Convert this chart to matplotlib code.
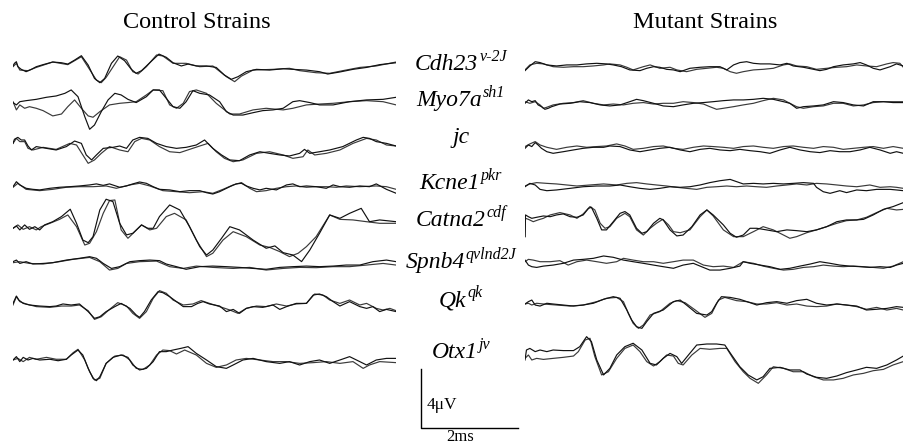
#!/usr/bin/env python3
# coding: utf-8

"""
ABR waveforms of control and mutant mouse strains, two repeats per strain.
Traces are digitised by eye: (time in ms, amplitude in uV) pairs.
"""

import matplotlib
matplotlib.use("Agg")
import matplotlib.pyplot as plt
import numpy as np

plt.rcParams['font.family'] = ['Liberation Serif', 'DejaVu Serif']

# strains (row order top to bottom)
genes = ["Cdh23", "Myo7a", "jc", "Kcne1", "Catna2", "Spnb4", "Qk", "Otx1"]
alleles = ["v-2J", "sh1", "", "pkr", "cdf", "qvlnd2J", "qk", "jv"]

# ---- control strains ----
cdh23_ctrl_1 = [(0, .05), (.03, .23), (.07, .34), (.10, 0), (.17, -.18), (.27, -.34), (.38, -.18), (.48, 0),
                (.62, .14), (.82, .32), (1.00, .27), (1.13, .18), (1.27, .45), (1.41, .75), (1.55, .11),
                (1.68, -.80), (1.79, -1.09), (1.89, -.80), (2.03, .23), (2.16, .73), (2.30, .41),
                (2.44, -.18), (2.54, -.45), (2.65, -.27), (2.82, .27), (3.01, .86), (3.16, .64), (3.30, .27),
                (3.47, .05), (3.61, .18), (3.78, .05), (3.99, .05), (4.19, -.05), (4.36, -.57), (4.50, -.86),
                (4.64, -.68), (4.81, -.34), (5.02, -.18), (5.29, -.23), (5.57, -.14), (5.77, -.18),
                (6.05, -.23), (6.32, -.34), (6.49, -.50), (6.74, -.36), (7.01, -.18), (7.29, -.05),
                (7.56, .14), (7.90, .27)]
cdh23_ctrl_2 = [(0, 0), (.07, .23), (.14, -.23), (.31, -.27), (.48, -.05), (.82, .32), (1.13, .14), (1.41, .68),
                (1.72, -.91), (1.82, -1.09), (1.92, -.73), (2.20, .68), (2.34, .45), (2.47, -.34), (2.58, -.50),
                (2.75, 0), (2.96, .80), (3.09, .73), (3.30, .23), (3.57, .23), (3.85, 0), (4.12, .05),
                (4.40, -.68), (4.57, -1.02), (4.71, -.64), (4.95, -.23), (5.36, -.18), (5.70, -.11),
                (5.91, -.27), (6.25, -.41), (6.53, -.45), (6.80, -.27), (7.15, -.05), (7.49, .05), (7.90, .32)]
myo7a_ctrl_1 = [(0, .05), (.07, -.11), (.14, .11), (.27, .18), (.48, .27), (.69, .41), (.89, .50), (1.07, .68),
                (1.20, .91), (1.34, .45), (1.48, -.91), (1.58, -1.77), (1.68, -1.48), (1.82, -.57), (1.96, .23),
                (2.10, .68), (2.23, .57), (2.37, .27), (2.54, .05), (2.75, .45), (2.89, .91), (3.02, .91),
                (3.16, .34), (3.30, -.23), (3.44, -.34), (3.57, .11), (3.71, .86), (3.85, .68), (4.05, .57),
                (4.26, .11), (4.40, -.57), (4.54, -.80), (4.74, -.80), (4.95, -.64), (5.15, -.50), (5.36, -.45),
                (5.57, -.34), (5.77, .11), (5.91, .18), (6.12, .05), (6.32, -.11), (6.60, -.11), (6.94, .11),
                (7.29, .23), (7.63, .27), (7.90, .41)]
myo7a_ctrl_2 = [(0, .11), (.07, -.45), (.14, -.11), (.24, -.34), (.34, -.23), (.48, -.34), (.62, -.50),
                (.82, -.86), (1.00, -.73), (1.13, -.23), (1.27, .23), (1.41, -.34), (1.55, -.86), (1.65, -.95),
                (1.79, -.57), (1.99, -.11), (2.20, 0), (2.37, .05), (2.54, .11), (2.75, .57), (2.89, .91),
                (3.09, .86), (3.23, -.11), (3.37, -.34), (3.51, 0), (3.64, .80), (3.78, .91), (3.99, .68),
                (4.19, 0), (4.47, -.73), (4.67, -.73), (4.95, -.45), (5.22, -.34), (5.57, -.45), (5.77, -.34),
                (6.05, -.11), (6.32, -.05), (6.60, 0), (6.94, .11), (7.29, .18), (7.63, .11), (7.90, -.11)]
jc_ctrl_1 = [(0, -.23), (.03, .05), (.10, .18), (.17, 0), (.24, 0), (.31, -.41), (.38, -.68), (.48, -.45),
             (.69, -.57), (.89, -.68), (1.10, -.45), (1.27, -.07), (1.41, -.23), (1.51, -1.02), (1.62, -1.36),
             (1.72, -1.02), (1.86, -.57), (2.06, -.50), (2.20, -.41), (2.34, -.57), (2.47, 0), (2.61, .18),
             (2.78, .11), (2.96, -.23), (3.16, -.45), (3.37, -.57), (3.57, -.50), (3.78, -.34), (3.95, 0),
             (4.12, -.57), (4.30, -1.02), (4.47, -1.36), (4.67, -1.41), (4.88, -1.02), (5.09, -.80),
             (5.29, -.91), (5.50, -1.02), (5.70, -1.09), (5.91, -.91), (6.01, -.64), (6.12, -.91),
             (6.32, -.80), (6.53, -.68), (6.80, -.45), (7.08, 0), (7.22, .18), (7.35, .11), (7.49, -.11),
             (7.70, -.23), (7.90, -.41)]
jc_ctrl_2 = [(0, -.23), (.07, .11), (.14, -.11), (.24, -.11), (.31, -.57), (.41, -.68), (.62, -.50), (.89, -.64),
             (1.17, -.23), (1.31, -.34), (1.44, -1.02), (1.55, -1.59), (1.68, -1.36), (1.82, -.91),
             (1.99, -.45), (2.20, -.68), (2.37, -.80), (2.51, -.11), (2.65, .11), (2.82, 0), (3.02, -.45),
             (3.23, -.80), (3.44, -.86), (3.64, -.64), (3.85, -.41), (4.02, -.23), (4.19, -.80), (4.36, -1.25),
             (4.54, -1.48), (4.74, -1.36), (5.02, -.91), (5.29, -.80), (5.57, -1.02), (5.77, -1.25),
             (5.98, -1.14), (6.08, -.68), (6.22, -1.02), (6.46, -.91), (6.74, -.68), (7.01, -.23),
             (7.29, .11), (7.49, 0), (7.70, -.34), (7.90, -.41)]
kcne1_ctrl_1 = [(0, .11), (.07, .45), (.14, .23), (.27, 0), (.41, -.07), (.55, -.11), (.76, 0), (.96, .07),
                (1.17, .11), (1.37, .16), (1.58, .23), (1.72, .30), (1.86, .20), (1.99, .30), (2.20, .07),
                (2.34, .16), (2.47, .30), (2.61, .43), (2.75, .34), (2.89, .11), (3.02, -.07), (3.23, -.11),
                (3.44, -.23), (3.64, -.16), (3.85, -.16), (3.99, -.30), (4.12, -.39), (4.26, -.23), (4.47, .11),
                (4.60, .30), (4.71, .34), (4.81, .16), (4.95, 0), (5.09, -.11), (5.22, 0), (5.43, -.11),
                (5.64, .23), (5.77, .30), (5.91, .11), (6.05, .16), (6.25, .11), (6.46, 0), (6.60, .23),
                (6.74, .11), (6.94, .07), (7.15, .16), (7.35, .11), (7.49, .30), (7.70, -.07), (7.90, -.34)]
kcne1_ctrl_2 = [(0, .07), (.10, .34), (.27, -.07), (.55, -.16), (.82, -.07), (1.10, .07), (1.37, .11),
                (1.65, .11), (1.92, .16), (2.13, 0), (2.41, .23), (2.61, .34), (2.82, .16), (3.09, -.16),
                (3.37, -.23), (3.64, -.30), (3.92, -.23), (4.12, -.34), (4.33, -.07), (4.54, .23), (4.71, .39),
                (4.88, 0), (5.02, -.23), (5.22, -.16), (5.43, 0), (5.64, .11), (5.84, .16), (6.05, .07),
                (6.25, .11), (6.46, .11), (6.67, .07), (6.87, .16), (7.15, .11), (7.49, .16), (7.70, .11),
                (7.90, -.07)]
catna2_ctrl_1 = [(0, 0), (.07, .16), (.14, -.11), (.24, .23), (.34, -.07), (.45, .11), (.55, -.11), (.65, .23),
                 (.82, .45), (1.00, .80), (1.18, 1.30), (1.31, .34), (1.44, -.80), (1.55, -.98), (1.65, -.57),
                 (1.79, 1.25), (1.92, 1.98), (2.06, 1.82), (2.20, .34), (2.34, -.45), (2.47, -.34), (2.65, .23),
                 (2.78, 0), (2.89, 0), (3.02, .80), (3.23, 1.59), (3.44, 1.25), (3.64, .11), (3.85, -1.25),
                 (3.99, -1.82), (4.12, -1.48), (4.30, -.68), (4.47, .11), (4.67, -.11), (4.95, -.80),
                 (5.22, -1.36), (5.40, -1.20), (5.57, -1.66), (5.77, -1.82), (5.95, -2.27), (6.12, -1.48),
                 (6.32, -.34), (6.53, .91), (6.74, .68), (6.94, 1.02), (7.18, 1.36), (7.35, .45), (7.56, .57),
                 (7.90, .45)]
catna2_ctrl_2 = [(0, 0), (.10, .23), (.21, -.07), (.34, .11), (.48, -.11), (.58, .11), (.76, .34), (.96, .61),
                 (1.13, .91), (1.31, .11), (1.48, -1.14), (1.58, -1.02), (1.72, -.23), (1.86, 1.02), (1.99, 1.89),
                 (2.10, 1.93), (2.23, -.11), (2.37, -.68), (2.51, -.23), (2.65, .23), (2.82, -.11), (2.96, 0),
                 (3.16, .80), (3.33, 1.02), (3.57, .57), (3.78, -.80), (3.99, -1.93), (4.12, -1.70), (4.33, -.80),
                 (4.54, -.23), (4.81, -.57), (5.09, -1.14), (5.29, -1.30), (5.50, -1.59), (5.70, -1.93),
                 (5.88, -1.70), (6.05, -1.25), (6.25, -.57), (6.53, .91), (6.74, .61), (7.01, .57), (7.29, .45),
                 (7.56, .34), (7.90, .34)]
spnb4_ctrl_1 = [(0, .07), (.07, .18), (.14, -.05), (.27, .07), (.41, -.09), (.62, -.05), (.82, 0), (1.10, .18),
                (1.37, .30), (1.58, .41), (1.72, .30), (1.86, -.05), (2.03, -.39), (2.20, -.27), (2.41, .07),
                (2.61, .14), (2.82, .18), (3.02, .14), (3.16, -.09), (3.37, -.27), (3.57, -.45), (3.85, -.27),
                (4.12, -.23), (4.40, -.27), (4.67, -.32), (4.95, -.39), (5.22, -.45), (5.50, -.32), (5.77, -.27),
                (6.05, -.23), (6.32, -.27), (6.60, -.23), (6.87, -.16), (7.15, -.16), (7.42, .07), (7.70, .18),
                (7.90, .07)]
spnb4_ctrl_2 = [(0, 0), (.14, .07), (.34, -.05), (.62, -.09), (.96, .07), (1.24, .23), (1.58, .36), (1.79, .07),
                (1.99, -.50), (2.16, -.39), (2.34, -.05), (2.61, .07), (2.96, .11), (3.23, -.27), (3.51, -.39),
                (3.78, -.23), (4.12, -.32), (4.54, -.39), (4.88, -.32), (5.22, -.50), (5.57, -.39), (5.91, -.32),
                (6.25, -.34), (6.60, -.27), (6.94, -.27), (7.29, -.16), (7.63, -.05), (7.90, -.16)]
qk_ctrl_1 = [(0, .11), (.07, .61), (.12, .34), (.21, .11), (.34, 0), (.55, -.07), (.76, -.11), (.89, -.07),
             (1.03, .07), (1.20, 0), (1.37, .07), (1.55, -.45), (1.68, -.91), (1.79, -.80), (1.92, -.45),
             (2.10, -.11), (2.23, .11), (2.41, -.23), (2.54, -.68), (2.61, -.84), (2.71, -.45), (2.85, .34),
             (2.99, .91), (3.09, .84), (3.23, .57), (3.37, .23), (3.51, -.11), (3.68, -.11), (3.81, .11),
             (3.92, .23), (4.05, .07), (4.26, -.07), (4.40, -.45), (4.54, -.30), (4.67, -.57), (4.81, -.23),
             (4.95, -.11), (5.15, -.16), (5.36, 0), (5.50, -.30), (5.64, -.11), (5.84, .11), (6.05, .11),
             (6.19, .68), (6.32, .75), (6.46, .57), (6.60, .23), (6.74, -.07), (6.94, .23), (7.15, -.11),
             (7.29, -.23), (7.42, -.11), (7.56, -.45), (7.70, -.30), (7.90, -.45)]
qk_ctrl_2 = [(0, 0), (.07, .57), (.14, .23), (.27, .07), (.48, -.11), (.76, -.16), (1.00, -.07), (1.20, -.07),
             (1.37, 0), (1.55, -.39), (1.68, -.98), (1.82, -.80), (1.99, -.30), (2.16, .16), (2.34, -.07),
             (2.47, -.57), (2.61, -.91), (2.75, -.45), (2.89, .45), (3.02, .98), (3.16, .80), (3.30, .34),
             (3.51, 0), (3.71, .07), (3.88, .30), (4.05, .11), (4.26, -.11), (4.47, -.34), (4.64, -.57),
             (4.81, -.23), (5.02, -.07), (5.22, -.11), (5.43, .07), (5.64, -.07), (5.84, .07), (6.05, .11),
             (6.22, .75), (6.39, .68), (6.53, .34), (6.74, .11), (6.94, .34), (7.15, 0), (7.29, .11),
             (7.49, -.23), (7.63, -.34), (7.77, -.23), (7.90, -.39)]
otx1_ctrl_1 = [(0, 0), (.07, .23), (.14, -.11), (.21, .18), (.31, 0), (.41, .11), (.55, 0), (.76, .05),
               (.93, -.05), (1.10, .05), (1.20, .34), (1.34, .68), (1.44, .34), (1.55, -.57), (1.65, -1.25),
               (1.72, -1.41), (1.79, -1.14), (1.92, -.23), (2.06, .18), (2.23, .34), (2.37, .18), (2.47, -.34),
               (2.61, -.68), (2.75, -.57), (2.89, -.11), (3.02, .57), (3.16, .57), (3.30, .68), (3.47, .80),
               (3.61, .91), (3.78, .45), (3.99, 0), (4.19, -.45), (4.40, -.57), (4.54, -.34), (4.74, 0),
               (4.95, .11), (5.22, -.11), (5.50, -.23), (5.70, -.11), (5.91, -.34), (6.12, -.11), (6.32, 0),
               (6.53, -.23), (6.74, 0), (6.94, .23), (7.15, -.11), (7.29, -.34), (7.49, 0), (7.70, .11),
               (7.90, .11)]
otx1_ctrl_2 = [(0, 0), (.10, .11), (.21, -.11), (.34, .18), (.48, .05), (.69, .18), (.89, .05), (1.10, .05),
               (1.24, .50), (1.34, .73), (1.48, 0), (1.58, -.80), (1.68, -1.36), (1.79, -1.25), (1.92, -.23),
               (2.10, .27), (2.27, .34), (2.41, 0), (2.54, -.57), (2.68, -.64), (2.82, -.34), (2.96, .34),
               (3.09, .68), (3.23, .64), (3.37, .41), (3.54, .68), (3.78, .34), (3.99, -.23), (4.19, -.50),
               (4.40, -.34), (4.60, 0), (4.81, .11), (5.09, 0), (5.36, -.11), (5.64, -.11), (5.91, -.23),
               (6.19, -.18), (6.46, -.11), (6.74, -.23), (7.01, -.11), (7.22, -.57), (7.35, -.34), (7.56, -.11),
               (7.90, -.18)]

# ---- mutant strains ----
cdh23_mut_1 = [(0, -.16), (.10, .16), (.21, .45), (.31, .39), (.45, .23), (.65, .16), (.86, .23), (1.07, .23),
               (1.27, .30), (1.48, .34), (1.68, .30), (1.82, .23), (1.99, .11), (2.16, -.11), (2.37, -.16),
               (2.51, 0), (2.65, .11), (2.78, .07), (2.92, -.07), (3.06, -.11), (3.20, -.23), (3.40, 0),
               (3.61, .07), (3.81, .11), (4.02, .11), (4.16, -.11), (4.30, .23), (4.43, .39), (4.57, .45),
               (4.71, .34), (4.85, .30), (5.05, .30), (5.26, .23), (5.40, .34), (5.53, .16), (5.74, .07),
               (5.95, -.07), (6.08, -.16), (6.22, -.07), (6.36, .11), (6.56, .23), (6.77, .30), (6.91, .39),
               (7.04, .23), (7.18, 0), (7.32, -.11), (7.53, .11), (7.66, .30), (7.80, .16)]
cdh23_mut_2 = [(0, -.11), (.10, .23), (.24, .34), (.38, .30), (.58, .11), (.79, .07), (1.00, .11), (1.20, .11),
               (1.41, .16), (1.62, .23), (1.75, .30), (1.96, .23), (2.10, .07), (2.23, -.11), (2.44, .11),
               (2.58, .23), (2.78, 0), (2.99, .07), (3.13, -.11), (3.33, -.23), (3.54, -.07), (3.75, 0),
               (3.95, .07), (4.09, 0), (4.23, -.23), (4.36, -.34), (4.50, -.23), (4.71, -.11), (4.91, -.07),
               (5.12, 0), (5.33, .23), (5.46, .30), (5.60, .16), (5.81, .11), (6.01, -.07), (6.22, 0),
               (6.43, .07), (6.63, .11), (6.84, .23), (7.04, .16), (7.25, .11), (7.46, .30), (7.59, .39),
               (7.73, .34), (7.80, .07)]
myo7a_mut_1 = [(0, 0), (.07, .23), (.14, .11), (.21, .18), (.27, -.11), (.34, -.23), (.41, -.41), (.48, -.34),
               (.55, -.23), (.72, -.05), (.93, 0), (1.13, .11), (1.34, .05), (1.55, -.11), (1.75, -.18),
               (1.96, -.11), (2.16, .11), (2.30, .27), (2.44, .18), (2.65, 0), (2.85, -.18), (3.06, -.23),
               (3.26, -.11), (3.47, 0), (3.68, .05), (3.88, .11), (4.09, .18), (4.30, .23), (4.50, .23),
               (4.71, .27), (4.91, .34), (5.12, .27), (5.33, .11), (5.46, 0), (5.60, -.34), (5.74, -.23),
               (5.95, -.18), (6.15, -.11), (6.36, .11), (6.56, .05), (6.77, -.11), (6.98, -.18), (7.18, .11),
               (7.39, .11), (7.59, .05), (7.80, .05)]
myo7a_mut_2 = [(0, .11), (.10, 0), (.21, .11), (.31, -.11), (.38, -.34), (.45, -.27), (.58, -.11), (.79, 0),
               (1.00, .05), (1.20, .18), (1.41, 0), (1.62, -.11), (1.82, -.05), (2.03, -.11), (2.23, 0),
               (2.44, .05), (2.65, -.05), (2.85, 0), (3.06, 0), (3.26, .11), (3.47, .05), (3.68, -.05),
               (3.81, -.23), (3.95, -.41), (4.09, -.34), (4.30, -.23), (4.50, -.11), (4.71, 0), (4.91, .18),
               (5.12, .34), (5.33, .23), (5.46, 0), (5.60, -.23), (5.74, -.34), (5.95, -.23), (6.15, -.18),
               (6.36, 0), (6.56, 0), (6.77, -.18), (6.98, -.11), (7.18, .05), (7.39, .11), (7.59, .11),
               (7.80, .11)]
jc_mut_1 = [(0, -.07), (.07, .16), (.14, .05), (.21, .32), (.27, .16), (.34, -.07), (.45, -.30), (.58, -.41),
            (.79, -.30), (1.00, -.18), (1.20, -.07), (1.41, 0), (1.62, 0), (1.75, .09), (1.96, .05),
            (2.16, -.18), (2.37, -.30), (2.58, -.18), (2.78, -.07), (2.99, 0), (3.20, -.18), (3.40, -.30),
            (3.61, -.14), (3.81, -.07), (4.02, -.18), (4.23, -.23), (4.43, -.14), (4.64, -.23), (4.85, -.30),
            (5.05, -.41), (5.26, -.18), (5.46, 0), (5.67, -.18), (5.88, -.30), (6.08, -.36), (6.29, -.23),
            (6.49, -.30), (6.70, -.30), (6.91, -.18), (7.11, 0), (7.32, -.18), (7.53, -.41), (7.66, -.30),
            (7.80, -.41)]
jc_mut_2 = [(0, .05), (.10, .23), (.21, .39), (.31, .16), (.45, 0), (.65, -.14), (.86, 0), (1.07, .09), (1.27, 0),
            (1.48, .05), (1.68, .09), (1.89, .23), (2.06, .09), (2.23, -.14), (2.44, -.07), (2.65, .05),
            (2.85, .09), (3.06, -.07), (3.26, -.14), (3.47, 0), (3.68, .09), (3.88, .05), (4.09, 0),
            (4.30, -.07), (4.50, .05), (4.71, .09), (4.91, 0), (5.12, -.07), (5.33, .05), (5.53, .09),
            (5.74, 0), (5.95, -.07), (6.15, .05), (6.36, 0), (6.56, -.14), (6.77, -.07), (6.98, 0), (7.18, .05),
            (7.39, -.07), (7.59, .05), (7.80, -.07)]
kcne1_mut_1 = [(0, -.05), (.10, .18), (.21, .07), (.31, -.23), (.45, -.32), (.65, -.27), (.93, -.16),
               (1.20, -.05), (1.48, 0), (1.75, 0), (1.96, .07), (2.16, -.05), (2.37, -.16), (2.58, -.23),
               (2.78, -.16), (2.99, -.05), (3.20, -.09), (3.40, -.05), (3.61, .07), (3.81, .23), (4.02, .36),
               (4.23, .45), (4.36, .30), (4.50, .14), (4.71, .18), (4.91, .14), (5.12, .18), (5.33, .14),
               (5.53, .18), (5.74, .23), (5.95, .18), (6.01, -.09), (6.15, -.39), (6.29, -.50), (6.49, -.32),
               (6.63, -.45), (6.84, -.27), (7.04, -.32), (7.25, -.23), (7.53, -.23), (7.66, -.27), (7.80, -.32)]
kcne1_mut_2 = [(0, 0), (.10, .14), (.24, .23), (.45, .18), (.65, .14), (.86, .07), (1.07, 0), (1.34, .07),
               (1.62, .14), (1.89, .07), (2.10, .18), (2.30, .23), (2.51, .14), (2.71, .07), (2.92, 0),
               (3.13, -.09), (3.33, -.16), (3.54, -.23), (3.75, -.09), (3.95, -.05), (4.16, 0), (4.36, -.05),
               (4.57, 0), (4.78, -.05), (4.98, -.09), (5.19, 0), (5.40, .07), (5.60, .14), (5.81, .07),
               (6.01, .18), (6.22, .14), (6.43, .07), (6.63, 0), (6.84, -.05), (7.11, .07), (7.32, -.09),
               (7.53, -.05), (7.66, -.09), (7.80, -.16)]
catna2_mut_1 = [(0, -.91), (.01, .57), (.07, .45), (.14, .34), (.24, .41), (.38, .50), (.52, .45), (.65, .57),
                (.79, .64), (.93, .45), (1.07, .41), (1.20, .57), (1.31, 1.02), (1.37, 1.09), (1.48, .34),
                (1.58, -.45), (1.68, -.45), (1.82, .11), (1.96, .68), (2.06, .80), (2.16, .57), (2.30, -.34),
                (2.41, -.68), (2.51, -.57), (2.65, 0), (2.78, .34), (2.85, .23), (2.99, -.45), (3.13, -.86),
                (3.26, -.80), (3.44, -.23), (3.61, .57), (3.75, .91), (3.88, .57), (4.09, -.11), (4.23, -.68),
                (4.36, -.95), (4.50, -.80), (4.64, -.34), (4.78, -.34), (4.98, -.45), (5.19, -.57), (5.40, -.45),
                (5.60, -.50), (5.81, -.57), (6.01, -.45), (6.22, -.23), (6.43, .11), (6.63, .23), (6.84, .23),
                (6.98, .27), (7.18, .57), (7.39, .95), (7.59, 1.14), (7.80, 1.41)]
catna2_mut_2 = [(0, -.91), (.01, .34), (.07, .27), (.17, .11), (.27, .23), (.38, .34), (.52, .57), (.72, .73),
                (.93, .57), (1.07, .34), (1.20, .64), (1.34, 1.14), (1.44, .91), (1.55, 0), (1.65, -.34),
                (1.75, -.23), (1.89, .34), (2.06, .68), (2.16, .45), (2.30, -.45), (2.44, -.80), (2.58, -.34),
                (2.71, 0), (2.84, .27), (2.96, -.11), (3.06, -.57), (3.20, -.64), (3.40, -.45), (3.61, .45),
                (3.75, .91), (3.88, .50), (4.09, -.45), (4.30, -.91), (4.50, -.91), (4.71, -.57), (4.91, -.23),
                (5.12, -.45), (5.33, -.80), (5.46, -1.02), (5.60, -.91), (5.81, -.64), (6.01, -.45), (6.22, -.23),
                (6.43, 0), (6.63, .18), (6.84, .23), (7.04, .41), (7.25, .73), (7.46, 1.02), (7.66, .91),
                (7.80, .95)]
spnb4_mut_1 = [(0, .11), (.07, -.23), (.14, -.34), (.24, -.39), (.38, -.30), (.58, -.23), (.79, -.11), (1.00, .11),
               (1.20, .16), (1.41, .23), (1.62, .39), (1.82, .30), (2.03, .11), (2.23, 0), (2.44, -.11),
               (2.65, -.23), (2.85, -.34), (3.06, -.45), (3.26, -.23), (3.47, -.11), (3.61, -.30), (3.81, -.57),
               (4.02, -.57), (4.23, -.45), (4.43, -.30), (4.50, 0), (4.64, -.11), (4.85, -.23), (5.05, -.34),
               (5.26, -.52), (5.46, -.45), (5.67, -.30), (5.88, -.16), (6.08, 0), (6.29, -.11), (6.49, -.23),
               (6.70, -.30), (6.91, -.34), (7.11, -.39), (7.32, -.34), (7.53, -.39), (7.66, -.23), (7.80, -.11)]
spnb4_mut_2 = [(0, 0), (.07, .16), (.17, .11), (.31, 0), (.52, 0), (.72, .07), (.89, -.23), (1.07, 0), (1.27, .11),
               (1.48, 0), (1.68, -.11), (1.89, 0), (2.03, .23), (2.23, .11), (2.44, 0), (2.65, 0), (2.85, -.11),
               (3.06, 0), (3.26, .11), (3.47, .11), (3.68, -.23), (3.88, -.34), (4.09, -.30), (4.30, -.39),
               (4.50, 0), (4.71, -.11), (4.91, -.30), (5.12, -.45), (5.33, -.57), (5.53, -.52), (5.74, -.39),
               (5.95, -.34), (6.15, -.23), (6.36, -.30), (6.56, -.34), (6.77, -.30), (6.98, -.34), (7.18, -.39),
               (7.39, -.45), (7.59, -.30), (7.80, 0)]
qk_mut_1 = [(0, 0), (.07, .16), (.14, .27), (.21, -.07), (.31, -.14), (.45, .05), (.58, 0), (.79, -.07),
            (1.00, -.14), (1.20, -.07), (1.41, .05), (1.62, .32), (1.82, .50), (1.96, .39), (2.10, -.41),
            (2.20, -1.09), (2.30, -1.55), (2.41, -1.66), (2.51, -1.20), (2.65, -.64), (2.85, -.41), (3.06, .16),
            (3.20, .27), (3.33, -.07), (3.54, -.64), (3.75, -.75), (3.85, -.52), (3.95, .05), (4.05, .50),
            (4.23, .45), (4.43, .32), (4.64, .09), (4.78, -.07), (4.98, .09), (5.19, .16), (5.40, .05),
            (5.60, .23), (5.81, .32), (6.01, .05), (6.22, -.07), (6.43, 0), (6.63, -.07), (6.84, -.14),
            (7.04, -.41), (7.25, -.36), (7.46, -.30), (7.66, -.18), (7.80, -.23)]
qk_mut_2 = [(0, 0), (.07, .05), (.14, -.07), (.24, .05), (.38, 0), (.65, -.07), (.93, -.14), (1.20, -.07),
            (1.48, .16), (1.68, .39), (1.89, .45), (2.03, .16), (2.13, -.64), (2.23, -1.32), (2.34, -1.66),
            (2.44, -1.43), (2.58, -.75), (2.78, -.52), (2.99, .05), (3.13, .23), (3.30, .09), (3.51, -.41),
            (3.71, -.91), (3.85, -.64), (3.99, .27), (4.12, .45), (4.36, .23), (4.57, .16), (4.78, 0), (4.98, 0),
            (5.19, .09), (5.40, -.07), (5.60, 0), (5.81, -.14), (6.01, -.18), (6.22, -.14), (6.43, 0),
            (6.63, -.07), (6.84, -.18), (7.04, -.36), (7.25, -.23), (7.46, -.41), (7.66, -.30), (7.80, -.41)]
otx1_mut_1 = [(0, -.34), (.03, .34), (.10, .45), (.21, .23), (.31, .34), (.45, .23), (.58, .34), (.79, .30),
              (1.00, .30), (1.13, .57), (1.27, 1.25), (1.37, .91), (1.48, -.34), (1.62, -1.36), (1.75, -.91),
              (1.89, 0), (2.06, .57), (2.23, .80), (2.41, .34), (2.58, -.57), (2.71, -.68), (2.85, -.23),
              (2.99, .11), (3.13, -.11), (3.23, -.57), (3.37, 0), (3.54, .68), (3.75, .75), (3.95, .75),
              (4.12, .68), (4.26, 0), (4.43, -.80), (4.60, -1.36), (4.78, -1.70), (4.91, -1.48), (5.05, -.91),
              (5.26, -.84), (5.46, -1.02), (5.67, -1.02), (5.81, -1.30), (6.01, -1.52), (6.22, -1.59),
              (6.43, -1.43), (6.63, -1.20), (6.84, -1.02), (7.04, -.84), (7.25, -.91), (7.46, -.68),
              (7.66, -.34), (7.80, -.07)]
otx1_mut_2 = [(0, -.23), (.07, 0), (.14, -.34), (.24, -.23), (.38, -.30), (.58, -.23), (.79, -.16), (1.00, -.07),
              (1.10, .23), (1.24, 1.02), (1.34, 1.14), (1.44, -.11), (1.58, -1.36), (1.72, -1.14), (1.89, -.23),
              (2.06, .45), (2.23, .68), (2.37, .23), (2.51, -.45), (2.65, -.75), (2.78, -.45), (2.92, 0),
              (3.06, -.07), (3.16, -.57), (3.26, -.68), (3.44, 0), (3.61, .45), (3.81, .39), (4.02, .45),
              (4.16, .45), (4.33, -.45), (4.50, -1.14), (4.64, -1.59), (4.81, -1.93), (4.98, -1.36),
              (5.12, -.80), (5.33, -.91), (5.53, -1.14), (5.74, -1.14), (5.95, -1.48), (6.15, -1.70),
              (6.36, -1.70), (6.56, -1.59), (6.77, -1.36), (6.98, -1.25), (7.18, -1.07), (7.39, -.98),
              (7.59, -.68), (7.80, -.45)]

control = [(cdh23_ctrl_1, cdh23_ctrl_2), (myo7a_ctrl_1, myo7a_ctrl_2), (jc_ctrl_1, jc_ctrl_2),
           (kcne1_ctrl_1, kcne1_ctrl_2), (catna2_ctrl_1, catna2_ctrl_2), (spnb4_ctrl_1, spnb4_ctrl_2),
           (qk_ctrl_1, qk_ctrl_2), (otx1_ctrl_1, otx1_ctrl_2)]
mutant = [(cdh23_mut_1, cdh23_mut_2), (myo7a_mut_1, myo7a_mut_2), (jc_mut_1, jc_mut_2),
          (kcne1_mut_1, kcne1_mut_2), (catna2_mut_1, catna2_mut_2), (spnb4_mut_1, spnb4_mut_2),
          (qk_mut_1, qk_mut_2), (otx1_mut_1, otx1_mut_2)]

# ---- layout (pixels of a 904x445 picture) ----
W, H = 904, 445
PX_PER_MS = 48.5
PX_PER_UV = 14.67
ROWS_LEFT = [66.7, 103.3, 140, 188.3, 228.3, 262.7, 305, 360]
ROWS_RIGHT = [68.3, 103.3, 147.3, 186, 223.3, 261.7, 304, 355]
LABEL_BASE = [70, 106, 143, 189, 226, 268, 306, 358]   # baselines of the strain names
LABEL_X = 461
COLORS = ["#111111", "#3a3a3a"]
LINEWIDTH = 0.85

fig = plt.figure(figsize=(W / 100, H / 100), dpi=100)


def make_panel(x0, t_end):
    """ axes in ms / uV, spanning the whole height of the figure """
    ax = fig.add_axes([x0 / W, 0, t_end * PX_PER_MS / W, 1])
    ax.set_xlim(0, t_end)
    ax.set_ylim(-H / PX_PER_UV, 0)
    ax.axis("off")
    return ax


def draw_rows(ax, traces, rows):
    for (tr1, tr2), ypx in zip(traces, rows):
        base = -ypx / PX_PER_UV
        for tr, c in zip((tr2, tr1), COLORS[::-1]):
            t, v = np.array(tr).T
            ax.plot(t, base + v, c=c, lw=LINEWIDTH, solid_joinstyle="round")


ax_l = make_panel(13, 7.90)
ax_r = make_panel(525, 7.80)
draw_rows(ax_l, control, ROWS_LEFT)
draw_rows(ax_r, mutant, ROWS_RIGHT)

# titles
fig.text(197 / W, 1 - 23 / H, "Control Strains", ha="center", va="center", fontsize=17.5)
fig.text(705 / W, 1 - 23 / H, "Mutant Strains", ha="center", va="center", fontsize=17.5)

# strain names, italic with the allele as superscript, centred as a whole
renderer = fig.canvas.get_renderer()
for g, a, yb in zip(genes, alleles, LABEL_BASE):
    main = fig.text(0, 1 - yb / H, g, fontsize=17, style="italic", ha="left", va="baseline")
    w_main = main.get_window_extent(renderer).width
    w_sup = 0
    sup = None
    if a:
        sup = fig.text(0, 1 - (yb - 9) / H, a, fontsize=11.5, style="italic", ha="left", va="baseline")
        w_sup = sup.get_window_extent(renderer).width + 1
    x_left = LABEL_X - (w_main + w_sup) / 2
    main.set_x(x_left / W)
    if sup is not None:
        sup.set_x((x_left + w_main + 1) / W)

# scale bar: 4 uV, 2 ms
x0 = (421 - 13) / PX_PER_MS
y0 = -428 / PX_PER_UV
ax_l.plot([x0, x0, x0 + 2], [y0 + 4, y0, y0], c="black", lw=1.0, clip_on=False)
fig.text(427 / W, 1 - 405 / H, "4\u03bcV", ha="left", va="center", fontsize=12.5)
fig.text(460 / W, 1 - 437 / H, "2ms", ha="center", va="center", fontsize=12)

plt.savefig("out.png", dpi=100)
